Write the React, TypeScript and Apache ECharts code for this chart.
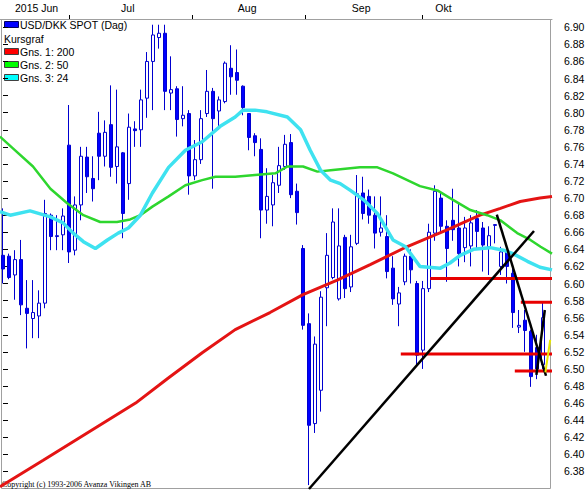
import React, { useEffect, useRef } from "react";
import * as echarts from "echarts";

// ---- data -----------------------------------------------------------------
const categories = Array.from({ length: 92 }, (_, i) => `D${i + 1}`);

const openV = [
  6.633, 6.632, 6.610, 6.628, 6.571, 6.559, 6.562, 6.577, 6.680, 6.655,
  6.657, 6.762, 6.639, 6.692, 6.748, 6.723, 6.776, 6.749, 6.786, 6.737,
  6.753, 6.717, 6.781, 6.780, 6.817, 6.860, 6.888, 6.893, 6.823, 6.828,
  6.793, 6.799, 6.726, 6.745, 6.799, 6.825, 6.802, 6.813, 6.852, 6.847,
  6.831, 6.799, 6.773, 6.757, 6.686, 6.692, 6.715, 6.737, 6.765, 6.708,
  6.641, 6.553, 6.436, 6.475, 6.595, 6.607, 6.582, 6.654, 6.596, 6.647,
  6.706, 6.702, 6.680, 6.660, 6.655, 6.618, 6.576, 6.602, 6.632, 6.600,
  6.522, 6.594, 6.659, 6.700, 6.667, 6.674, 6.665, 6.642, 6.644, 6.676,
  6.665, 6.643, 6.668, 6.620, 6.637, 6.612, 6.549, 6.557, 6.544, 6.525, 6.505,
];
const closeV = [
  6.617, 6.607, 6.628, 6.575, 6.565, 6.566, 6.577, 6.682, 6.655, 6.656,
  6.679, 6.637, 6.692, 6.749, 6.725, 6.711, 6.749, 6.777, 6.736, 6.760,
  6.682, 6.783, 6.779, 6.815, 6.860, 6.891, 6.893, 6.825, 6.827, 6.792,
  6.797, 6.726, 6.745, 6.793, 6.825, 6.793, 6.815, 6.858, 6.842, 6.838,
  6.806, 6.771, 6.765, 6.686, 6.702, 6.718, 6.738, 6.763, 6.704, 6.683,
  6.551, 6.434, 6.529, 6.584, 6.633, 6.672, 6.644, 6.594, 6.643, 6.705,
  6.682, 6.680, 6.659, 6.665, 6.614, 6.582, 6.589, 6.632, 6.616, 6.516,
  6.594, 6.660, 6.708, 6.667, 6.641, 6.663, 6.635, 6.665, 6.671, 6.661,
  6.645, 6.656, 6.669, 6.637, 6.620, 6.566, 6.551, 6.545, 6.491, 6.500, 6.560,
];
const lowV = [
  6.600, 6.605, 6.581, 6.563, 6.524, 6.536, 6.536, 6.571, 6.639, 6.639,
  6.639, 6.624, 6.633, 6.674, 6.706, 6.696, 6.721, 6.737, 6.725, 6.717,
  6.653, 6.698, 6.760, 6.760, 6.794, 6.803, 6.875, 6.803, 6.803, 6.772,
  6.784, 6.704, 6.721, 6.740, 6.795, 6.711, 6.780, 6.811, 6.821, 6.821,
  6.797, 6.756, 6.749, 6.653, 6.670, 6.667, 6.706, 6.733, 6.700, 6.669,
  6.546, 6.364, 6.425, 6.450, 6.550, 6.605, 6.580, 6.583, 6.590, 6.645,
  6.675, 6.670, 6.641, 6.655, 6.606, 6.575, 6.550, 6.598, 6.600, 6.504,
  6.500, 6.590, 6.650, 6.659, 6.602, 6.650, 6.620, 6.625, 6.620, 6.640,
  6.614, 6.610, 6.647, 6.610, 6.600, 6.548, 6.542, 6.520, 6.479, 6.488, 6.500,
];
const highV = [
  6.688, 6.635, 6.639, 6.651, 6.604, 6.604, 6.592, 6.698, 6.682, 6.680,
  6.688, 6.809, 6.702, 6.760, 6.760, 6.749, 6.801, 6.791, 6.832, 6.827,
  6.754, 6.799, 6.790, 6.827, 6.871, 6.903, 6.903, 6.903, 6.866, 6.831,
  6.831, 6.803, 6.768, 6.803, 6.850, 6.829, 6.819, 6.860, 6.879, 6.874,
  6.832, 6.799, 6.776, 6.770, 6.735, 6.727, 6.760, 6.774, 6.775, 6.717,
  6.645, 6.565, 6.538, 6.591, 6.659, 6.688, 6.688, 6.657, 6.657, 6.727,
  6.725, 6.710, 6.702, 6.702, 6.680, 6.632, 6.596, 6.635, 6.640, 6.603,
  6.603, 6.670, 6.715, 6.708, 6.674, 6.711, 6.695, 6.678, 6.680, 6.686,
  6.672, 6.667, 6.669, 6.643, 6.639, 6.620, 6.569, 6.569, 6.546, 6.540, 6.578,
];

// moving averages: [day index, value]
const ma200 = [
  [-0.5, 6.362], [6.7, 6.393], [22.1, 6.46], [27.5, 6.489], [33.2, 6.519],
  [38.7, 6.546], [44.5, 6.566], [50, 6.587], [55.7, 6.604], [61.2, 6.622],
  [66.7, 6.641], [74.1, 6.663], [79.5, 6.68], [82.9, 6.688], [86.2, 6.696],
  [89.5, 6.7], [91.5, 6.702],
];
const ma50 = [
  [-0.5, 6.772], [1.7, 6.758], [5, 6.737], [7.9, 6.711], [10.7, 6.694],
  [13.4, 6.68], [16.2, 6.672], [19, 6.672], [21.2, 6.675], [22.9, 6.68],
  [24.9, 6.69], [27.6, 6.702], [30.4, 6.715], [33.2, 6.721], [35.4, 6.725],
  [38.7, 6.725], [42, 6.727], [45.4, 6.729], [47.4, 6.737], [50, 6.737],
  [52.4, 6.731], [55, 6.733], [59.5, 6.736], [62.4, 6.736], [65, 6.729],
  [69.5, 6.714], [72.4, 6.709], [75, 6.698], [77.9, 6.686], [80.7, 6.68],
  [82.9, 6.674], [85.7, 6.659], [87.9, 6.651], [89.6, 6.643], [91.5, 6.635],
];
const ma24 = [
  [-0.5, 6.684], [1.2, 6.68], [4.5, 6.685], [7.9, 6.678], [10, 6.671],
  [11.7, 6.659], [13.4, 6.649], [15.4, 6.641], [17.4, 6.651], [19.2, 6.659],
  [20.9, 6.665], [22.9, 6.68], [24.9, 6.706], [27.6, 6.736], [30.4, 6.756],
  [33.2, 6.766], [36.2, 6.784], [38.7, 6.795], [40, 6.803], [42, 6.803],
  [44, 6.801], [47.4, 6.795], [49.6, 6.78], [51.2, 6.756], [52.9, 6.733],
  [54.6, 6.721], [56.2, 6.717], [57.9, 6.709], [60.1, 6.698], [62.4, 6.682],
  [65, 6.651], [67.1, 6.643], [69.5, 6.62], [72.9, 6.618], [74.5, 6.624],
  [76.2, 6.633], [78.4, 6.64], [81.2, 6.642], [83.4, 6.639], [85, 6.635],
  [87.4, 6.626], [89.5, 6.619], [91.5, 6.616],
];

// horizontal support / resistance levels
const levelValues = [6.606, 6.578, 6.5175, 6.4976];
const levelStarts = [71.2, 86.3, 66.3, 85.3];

// drawn trend lines
const trendUp = [[51.0, 6.3594], [88.5, 6.6615]];
const trendDown = [[82.3, 6.6807], [90.5, 6.492]];
const trendShort = [[88.9, 6.493], [90.3, 6.569]];
const trendYellow = [[90.4, 6.496], [91.2, 6.534]];

// axes
const yTicks = [
  6.38, 6.4, 6.42, 6.44, 6.46, 6.48, 6.5, 6.52, 6.54, 6.56, 6.58, 6.6, 6.62,
  6.64, 6.66, 6.68, 6.7, 6.72, 6.74, 6.76, 6.78, 6.8, 6.82, 6.84, 6.86, 6.88, 6.9,
];
const monthLabels = ["2015 Jun", "Jul", "Aug", "Sep", "Okt"];
const monthLabelPos = [5.6, 20.8, 40.7, 59.7, 73.4];
const monthTickPos = [11, 31.5, 50.3, 69.8];

const legendItems = [
  { name: "Gns. 1: 200", color: "#ff0000" },
  { name: "Gns. 2: 50", color: "#00ff00" },
  { name: "Gns. 3: 24", color: "#00ffff" },
];

// ---- chart -----------------------------------------------------------------
const SANS = "'Liberation Sans', Arial, sans-serif";

export default function App() {
  const ref = useRef<HTMLDivElement>(null);

  useEffect(() => {
    if (!ref.current) return;
    const chart = echarts.init(ref.current, undefined, { renderer: "svg" });

    const candles = openV.map((o, i) => [o, closeV[i], lowV[i], highV[i]]);
    const lineSeries = (data: number[][], color: string, width: number, z = 3) => ({
      type: "line",
      xAxisIndex: 1,
      yAxisIndex: 0,
      data,
      showSymbol: false,
      symbol: "none",
      smooth: false,
      silent: true,
      z,
      lineStyle: { color, width },
    });

    const levelSeries = levelValues.map((v, i) =>
      lineSeries(
        [
          [levelStarts[i], v],
          [categories.length - 0.5, v],
        ],
        "#e80000",
        3,
        4
      )
    );

    const graphic: any[] = [
      {
        type: "rect",
        shape: { x: 1.5, y: 19.5, width: 549, height: 469 },
        style: { fill: "none", stroke: "#a0a0a0", lineWidth: 1 },
        silent: true,
      },
      {
        type: "rect",
        shape: { x: 4.5, y: 21.5, width: 14, height: 6 },
        style: { fill: "#0000ff", stroke: "#000060", lineWidth: 1 },
      },
      {
        type: "text",
        x: 20,
        y: 25,
        style: {
          text: "USD/DKK SPOT (Dag)",
          fontSize: 10.5,
          fontFamily: SANS,
          fill: "#000",
          verticalAlign: "middle",
        },
      },
      {
        type: "text",
        x: 4,
        y: 38.5,
        style: {
          text: "Kursgraf",
          fontSize: 10.5,
          fontFamily: SANS,
          fill: "#000",
          verticalAlign: "middle",
        },
      },
      {
        type: "text",
        x: 2,
        y: 484,
        style: {
          text: "Copyright (c) 1993-2006 Avanza Vikingen AB",
          fontSize: 8,
          fontFamily: "'Liberation Serif', 'Times New Roman', serif",
          fill: "#000",
          verticalAlign: "middle",
        },
      },
    ];
    legendItems.forEach((it, i) => {
      const y = 48.5 + i * 13;
      graphic.push({
        type: "rect",
        shape: { x: 4.5, y, width: 14, height: 6 },
        style: { fill: it.color, stroke: "#404040", lineWidth: 1 },
      });
      graphic.push({
        type: "text",
        x: 20,
        y: y + 3,
        style: {
          text: it.name,
          fontSize: 10.5,
          fontFamily: SANS,
          fill: "#000",
          verticalAlign: "middle",
        },
      });
    });

    const option: any = {
      animation: false,
      backgroundColor: "#ffffff",
      grid: {
        left: 0,
        right: 35,
        top: 19,
        bottom: 2,
        containLabel: false,
        outerBoundsMode: "none",
      },
      xAxis: [
        {
          type: "category",
          data: categories,
          show: false,
          boundaryGap: true,
        },
        {
          type: "value",
          position: "top",
          min: -0.5,
          max: categories.length - 0.5,
          splitLine: { show: false },
          axisLine: { show: true, lineStyle: { color: "#a0a0a0", width: 1 } },
          axisTick: {
            show: true,
            customValues: monthTickPos,
            length: 4,
            lineStyle: { color: "#000", width: 1 },
          },
          axisLabel: {
            customValues: monthLabelPos,
            formatter: (v: number) => {
              const i = monthLabelPos.findIndex((p) => Math.abs(p - v) < 1e-6);
              return i >= 0 ? monthLabels[i] : "";
            },
            align: "center",
            margin: 6,
            fontSize: 10.5,
            fontFamily: SANS,
            color: "#000",
          },
        },
      ],
      yAxis: {
        type: "value",
        position: "right",
        min: 6.3594,
        max: 6.9097,
        splitLine: { show: false },
        axisLine: { show: false },
        axisTick: {
          show: true,
          customValues: yTicks,
          length: 5,
          lineStyle: { color: "#000", width: 1 },
        },
        axisLabel: {
          customValues: yTicks,
          formatter: (v: number) => v.toFixed(2),
          margin: 12,
          fontSize: 10.5,
          fontFamily: SANS,
          color: "#000",
        },
      },
      graphic,
      series: [
        {
          type: "candlestick",
          xAxisIndex: 0,
          yAxisIndex: 0,
          data: candles,
          barWidth: 4,
          silent: true,
          z: 2,
          itemStyle: {
            color: "#ffffff",
            color0: "#0000ff",
            borderColor: "#0000d0",
            borderColor0: "#0000d0",
            borderColorDoji: "#0000d0",
            borderWidth: 1,
          },
        },
        lineSeries(ma200, "#e41414", 3),
        lineSeries(ma50, "#2ed62e", 2.5),
        lineSeries(ma24, "#3ee2f0", 3.5),
        ...levelSeries,
        lineSeries(trendUp, "#000000", 2.5, 5),
        lineSeries(trendDown, "#000000", 2.5, 5),
        lineSeries(trendShort, "#000000", 2.5, 5),
        lineSeries(trendYellow, "#e8e800", 2, 6),
      ],
    };

    chart.setOption(option);
    return () => chart.dispose();
  }, []);

  return (
    <div
      ref={ref}
      style={{
        position: "fixed",
        left: 0,
        top: 0,
        width: 587,
        height: 491,
        background: "#fff",
      }}
    />
  );
}
